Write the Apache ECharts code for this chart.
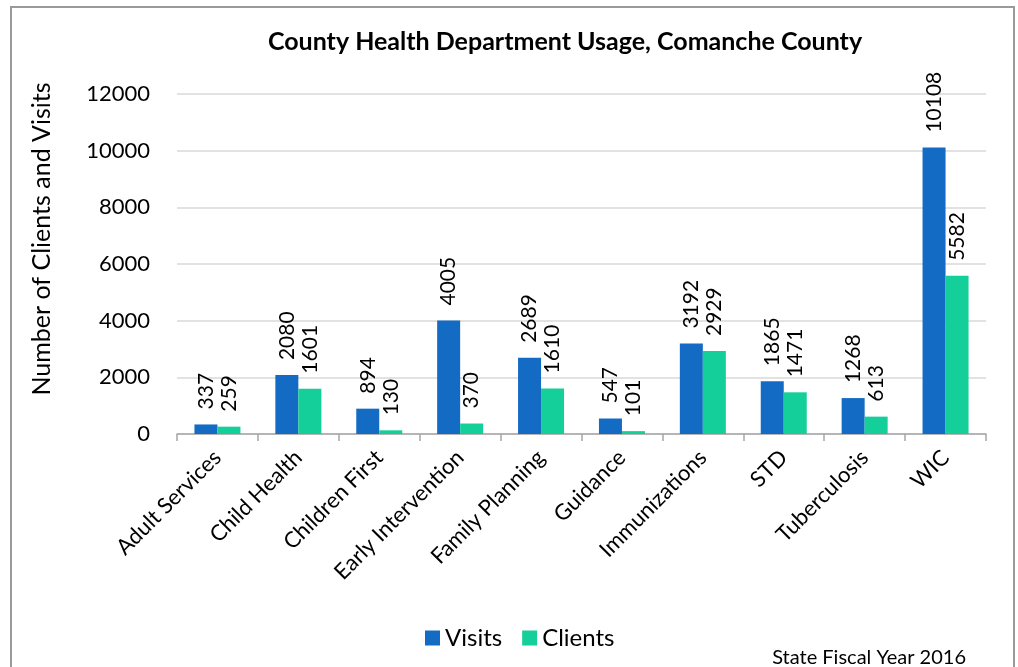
<!DOCTYPE html>
<html>
<head>
<meta charset="utf-8">
<script src="https://cdn.jsdelivr.net/npm/echarts@6/dist/echarts.min.js"></script>
<style>
  html, body { margin: 0; padding: 0; background: #fff; }
  #chart { width: 1018px; height: 667px; }
</style>
</head>
<body>
<div id="chart"></div>
<script>
// data
const categories = ['Adult Services', 'Child Health', 'Children First', 'Early Intervention',
  'Family Planning', 'Guidance', 'Immunizations', 'STD', 'Tuberculosis', 'WIC']
const visits = [337, 2080, 894, 4005, 2689, 547, 3192, 1865, 1268, 10108]
const clients = [259, 1601, 130, 370, 1610, 101, 2929, 1471, 613, 5582]

const font = 'Lato, "Open Sans", sans-serif'

let myChart = echarts.init(document.getElementById('chart'))

// labels standing on top of bars, turned upright
let barLabel = {
  show: true,
  position: 'top',
  rotate: 90,
  align: 'left',
  verticalAlign: 'middle',
  distance: 15,
  fontSize: 21,
  color: '#000',
  fontFamily: font
}

let option = {
  animation: false,
  textStyle: { fontFamily: font },
  title: {
    text: 'County Health Department Usage, Comanche County',
    left: 560,
    textAlign: 'center',
    top: 24,
    textStyle: { fontSize: 25, fontWeight: 'bold', color: '#000', fontFamily: font }
  },
  graphic: [
    {
      type: 'rect',
      shape: { x: 11, y: 7, width: 1003, height: 700 },
      style: { fill: 'none', stroke: '#9a9a9a', lineWidth: 2 }
    },
    {
      type: 'text',
      right: 52,
      top: 648,
      style: { text: 'State Fiscal Year 2016', fontSize: 20, fontFamily: font, fill: '#000' }
    }
  ],
  legend: {
    data: ['Visits', 'Clients'],
    left: 420,
    top: 621,
    itemWidth: 15,
    itemHeight: 15,
    itemGap: 20,
    icon: 'rect',
    textStyle: { fontSize: 24, color: '#000', fontFamily: font }
  },
  grid: {
    left: 177,
    right: 32,
    top: 94,
    bottom: 233
  },
  xAxis: {
    type: 'category',
    data: categories,
    axisLine: { lineStyle: { color: '#a6a6a6', width: 1.5 } },
    axisTick: { show: true, length: 7, lineStyle: { color: '#a6a6a6', width: 1.5 } },
    axisLabel: {
      rotate: 45,
      interval: 0,
      margin: 20,
      fontSize: 22,
      color: '#000',
      fontFamily: font
    }
  },
  yAxis: {
    type: 'value',
    min: 0,
    max: 12000,
    interval: 2000,
    name: 'Number of Clients and Visits',
    nameLocation: 'middle',
    nameGap: 123,
    nameTextStyle: { fontSize: 25, color: '#000', fontFamily: font, padding: [0, 0, 0, 50] },
    axisLine: { show: false },
    axisTick: { show: false },
    splitLine: { lineStyle: { color: '#d9d9d9', width: 1.5 } },
    axisLabel: {
      fontSize: 22,
      color: '#000',
      margin: 27,
      fontFamily: font,
      formatter: v => String(v)
    }
  },
  series: [
    {
      name: 'Visits',
      type: 'bar',
      data: visits,
      barWidth: 23,
      barGap: '0%',
      itemStyle: { color: '#136bc4' },
      label: barLabel
    },
    {
      name: 'Clients',
      type: 'bar',
      data: clients,
      barWidth: 23,
      itemStyle: { color: '#14cf99' },
      label: barLabel
    }
  ]
}

myChart.setOption(option)
</script>
</body>
</html>
